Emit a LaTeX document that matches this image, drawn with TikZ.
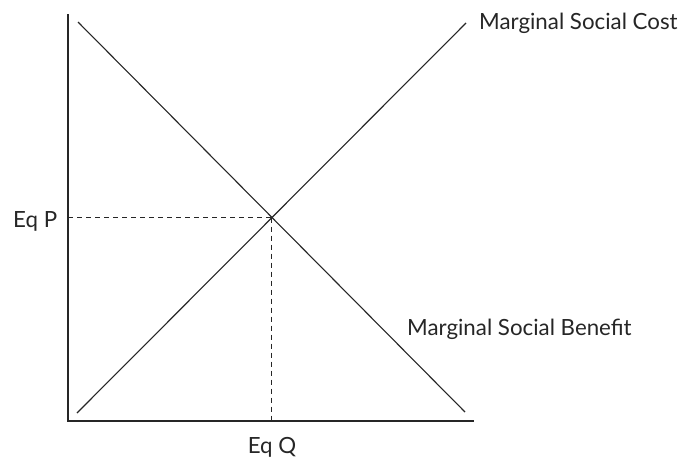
\documentclass[tikz,border=0pt]{standalone}
\usepackage{fontspec}
\setmainfont{Lato}
\begin{document}
\begin{tikzpicture}[x=1pt,y=-1pt,
  axis/.style={line width=1.2pt,draw=black!85},
  curve/.style={line width=1.1pt,draw=black!85},
  guide/.style={line width=1pt,draw=black!85,dash pattern=on 5pt off 4pt},
  lbl/.style={inner sep=0pt,text=black!85,font=\fontsize{22.3}{26}\selectfont}]
\useasboundingbox (0,0) rectangle (684,458);
\coordinate (ytop) at (68,14);
\coordinate (origin) at (68,421);
\coordinate (xend) at (474,421);
\coordinate (msbA) at (78,22);
\coordinate (msbB) at (465,412);
\coordinate (mscA) at (77,413);
\coordinate (mscB) at (466,23);
\coordinate (eq) at (271.5,217.5);
\coordinate (eqy) at (68,217.5);
\coordinate (eqx) at (271.5,421);
\draw[axis] (ytop) -- (origin) -- (xend);
\draw[curve] (msbA) -- (msbB);
\draw[curve] (mscA) -- (mscB);
\draw[guide] (eqy) -- (eq);
\draw[guide] (eq) -- (eqx);
\node[lbl,anchor=base west] (msc) at (479,29) {Marginal Social Cost};
\node[lbl,anchor=base west] (msb) at (407,335) {Marginal Social Benefit};
\node[lbl,anchor=base west] (eqp) at (13,227) {Eq P};
\node[lbl,anchor=base] (eqq) at (272,453) {Eq Q};
\end{tikzpicture}
\end{document}
